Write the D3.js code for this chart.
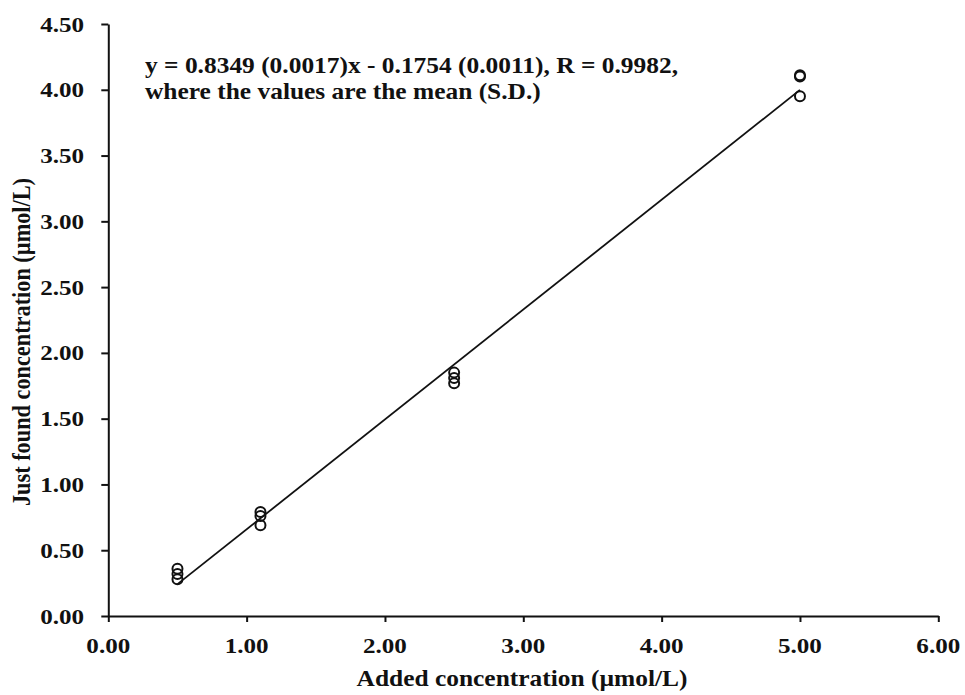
<!DOCTYPE html>
<html>
<head>
<meta charset="utf-8">
<script src="https://cdn.jsdelivr.net/npm/d3@7"></script>
<style>
  html, body { margin: 0; padding: 0; background: #fff; }
  svg { display: block; }
  text { font-family: "Liberation Serif", "Times New Roman", serif; font-weight: bold; fill: #111; }
</style>
</head>
<body>
<svg id="chart" width="965" height="695"></svg>
<script>
// Added concentration levels (µmol/L) and the replicate "just found" results at each level
const addedLevels = [0.5, 1.1, 2.5, 5.0];
const foundLevel1 = [0.36, 0.32, 0.28];
const foundLevel2 = [0.79, 0.76, 0.69];
const foundLevel3 = [1.85, 1.81, 1.77];
const foundLevel4 = [4.11, 4.10, 3.95];

// Fitted calibration line
const slope = 0.8349;
const intercept = -0.1754;
const fitRange = [0.5, 5.0];

const xTicks = [0, 1, 2, 3, 4, 5, 6];
const yTicks = [0, 0.5, 1, 1.5, 2, 2.5, 3, 3.5, 4, 4.5];

const xTitle = "Added concentration (\u00b5mol/L)";
const yTitle = "Just found concentration (\u00b5mol/L)";
const noteLines = [
  "y = 0.8349 (0.0017)x - 0.1754 (0.0011), R = 0.9982,",
  "where the values are the mean (S.D.)"
];

const points = [];
[foundLevel1, foundLevel2, foundLevel3, foundLevel4].forEach((vals, i) => {
  vals.forEach(v => points.push({ x: addedLevels[i], y: v }));
});

const svg = d3.select("#chart");
const stretch = 1.14; // glyphs are drawn slightly wide

const x = d3.scaleLinear().domain([0, 6]).range([108.3, 938.3]);
const y = d3.scaleLinear().domain([0, 4.5]).range([616, 24]);

// Axes
const xAxis = svg.append("g")
  .attr("transform", `translate(0,${y(0)})`)
  .call(d3.axisBottom(x).tickValues(xTicks).tickSize(6).tickSizeOuter(0).tickFormat(() => ""));
const yAxis = svg.append("g")
  .attr("transform", `translate(${x(0)},0)`)
  .call(d3.axisLeft(y).tickValues(yTicks).tickSize(7).tickSizeOuter(0).tickFormat(() => ""));
[xAxis, yAxis].forEach(a => {
  a.select(".domain").attr("stroke", "#111").attr("stroke-width", 2);
  a.selectAll(".tick line").attr("stroke", "#111").attr("stroke-width", 2);
});

function label(px, py, str, size, anchor) {
  const g = svg.append("g").attr("transform", `translate(${px},${py}) scale(${stretch},1)`);
  g.append("text").attr("font-size", size).attr("text-anchor", anchor).text(str);
  return g;
}

// Tick labels
xTicks.forEach(t => label(x(t), 653, d3.format(".2f")(t), 22, "middle"));
yTicks.forEach(t => label(84, y(t) + 7.5, d3.format(".2f")(t), 22, "end"));

// Axis titles
label(522, 686, xTitle, 22.3, "middle");
svg.append("g")
  .attr("transform", `translate(30,342) rotate(-90) scale(1,${stretch})`)
  .append("text").attr("font-size", 22.3).attr("text-anchor", "middle").text(yTitle);

// Regression line
const fit = fitRange.map(v => ({ x: v, y: slope * v + intercept }));
svg.append("path")
  .datum(fit)
  .attr("fill", "none")
  .attr("stroke", "#111")
  .attr("stroke-width", 1.8)
  .attr("d", d3.line().x(d => x(d.x)).y(d => y(d.y)));

// Replicate measurements
svg.append("g").selectAll("circle")
  .data(points)
  .join("circle")
  .attr("cx", d => x(d.x))
  .attr("cy", d => y(d.y))
  .attr("r", 5)
  .attr("fill", "none")
  .attr("stroke", "#111")
  .attr("stroke-width", 2);

// Equation note
noteLines.forEach((s, i) => label(145, 73 + i * 26, s, 22.3, "start"));
</script>
</body>
</html>
